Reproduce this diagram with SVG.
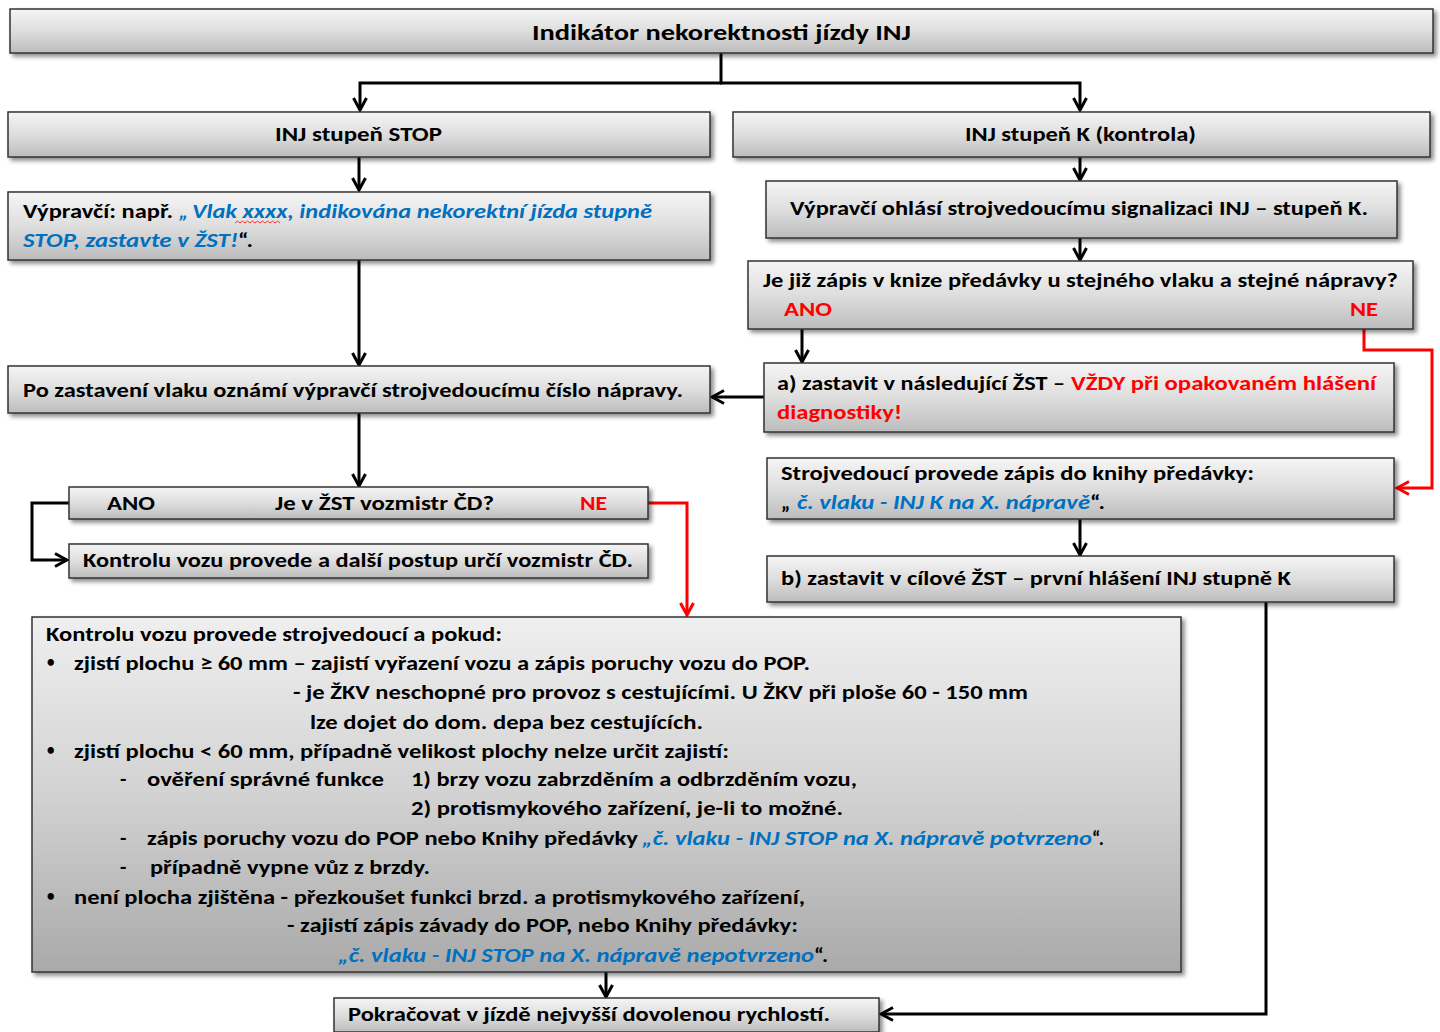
<svg xmlns="http://www.w3.org/2000/svg" width="1440" height="1032" viewBox="0 0 1440 1032">
  <defs>
    <linearGradient id="boxFill" x1="0" y1="0" x2="0" y2="1">
      <stop offset="0" stop-color="#f5f5f5"/>
      <stop offset="0.5" stop-color="#dedede"/>
      <stop offset="1" stop-color="#bcbcbc"/>
    </linearGradient>
    <linearGradient id="bigFill" x1="0" y1="0" x2="0" y2="1">
      <stop offset="0" stop-color="#efefef"/>
      <stop offset="0.5" stop-color="#d2d2d2"/>
      <stop offset="1" stop-color="#a9a9a9"/>
    </linearGradient>
    <filter id="shadow" x="-5%" y="-20%" width="112%" height="150%">
      <feDropShadow dx="3" dy="3" stdDeviation="2" flood-color="#000" flood-opacity="0.45"/>
    </filter>
    <marker id="arrK" viewBox="0 0 16 16" refX="14" refY="8" markerWidth="16" markerHeight="16" markerUnits="userSpaceOnUse" orient="auto">
      <path d="M2,1.5 L14,8 L2,14.5" fill="none" stroke="#000" stroke-width="3"/>
    </marker>
    <marker id="arrR" viewBox="0 0 16 16" refX="14" refY="8" markerWidth="16" markerHeight="16" markerUnits="userSpaceOnUse" orient="auto">
      <path d="M2,1.5 L14,8 L2,14.5" fill="none" stroke="#ff0000" stroke-width="3"/>
    </marker>
  </defs>
  <style>
    .box { fill: url(#boxFill); stroke: #333; stroke-width: 1.5; filter: url(#shadow); }
    .big { fill: url(#bigFill); stroke: #333; stroke-width: 1.5; filter: url(#shadow); }
    text { font-family: Carlito, Lato, "Liberation Sans", sans-serif; font-weight: bold; font-size: 21px; fill: #000; }
    .title { font-size: 23px; }
    .blue { fill: #0070c0; font-style: italic; }
    .red { fill: #ff0000; }
    .bul { font-size: 15px; }
    .ln { fill: none; stroke: #000; stroke-width: 3; stroke-linejoin: miter; }
    .lr { fill: none; stroke: #ff0000; stroke-width: 3; stroke-linejoin: miter; }
  </style>

  <rect width="1440" height="1032" fill="#fff"/>

  <!-- connectors -->
  <g id="connectors">
    <path class="ln" d="M721,53 V83"/>
    <path class="ln" d="M722,83 H360 V110" marker-end="url(#arrK)"/>
    <path class="ln" d="M720,83 H1080 V110" marker-end="url(#arrK)"/>
    <path class="ln" d="M359,157 V190" marker-end="url(#arrK)"/>
    <path class="ln" d="M1080,157 V180" marker-end="url(#arrK)"/>
    <path class="ln" d="M1080,238 V260" marker-end="url(#arrK)"/>
    <path class="ln" d="M802,329 V362" marker-end="url(#arrK)"/>
    <path class="ln" d="M764,397 H712" marker-end="url(#arrK)"/>
    <path class="ln" d="M359,260 V365" marker-end="url(#arrK)"/>
    <path class="ln" d="M359,413 V486" marker-end="url(#arrK)"/>
    <path class="ln" d="M69,503 H32 V560 H67" marker-end="url(#arrK)"/>
    <path class="ln" d="M1080,519 V555" marker-end="url(#arrK)"/>
    <path class="ln" d="M1266,602 V1014 H881" marker-end="url(#arrK)"/>
    <path class="ln" d="M606,972 V997" marker-end="url(#arrK)"/>
    <path class="lr" d="M1364,329 V350 H1432 V488 H1397" marker-end="url(#arrR)"/>
    <path class="lr" d="M648,503 H687 V615" marker-end="url(#arrR)"/>
  </g>

  <g id="n-title">
    <rect class="box" x="10" y="9" width="1423" height="44"/>
    <text class="title" x="532" y="40" textLength="379" lengthAdjust="spacingAndGlyphs">Indikátor nekorektnosti jízdy INJ</text>
  </g>

  <g id="n-stop">
    <rect class="box" x="8" y="112" width="702" height="45"/>
    <text x="275" y="141" textLength="167" lengthAdjust="spacingAndGlyphs">INJ stupeň STOP</text>
  </g>

  <g id="n-k">
    <rect class="box" x="733" y="112" width="697" height="45"/>
    <text x="965" y="141" textLength="231" lengthAdjust="spacingAndGlyphs">INJ stupeň K (kontrola)</text>
  </g>

  <g id="n-vypravci-stop">
    <rect class="box" x="8" y="192" width="702" height="68"/>
    <text x="23" y="218" textLength="150" lengthAdjust="spacingAndGlyphs">Výpravčí: např.</text>
    <text class="blue" x="179" y="218">„</text>
    <text class="blue" x="192" y="218" textLength="460" lengthAdjust="spacingAndGlyphs">Vlak xxxx, indikována nekorektní jízda stupně</text>
    <!-- spell-check squiggle under the placeholder train number -->
    <path d="M235,223 l2.5,-2 l2.5,2 l2.5,-2 l2.5,2 l2.5,-2 l2.5,2 l2.5,-2 l2.5,2 l2.5,-2 l2.5,2 l2.5,-2 l2.5,2 l2.5,-2 l2.5,2 l2.5,-2 l2.5,2 l2.5,-2 l2.5,2" fill="none" stroke="#ff3030" stroke-width="1"/>
    <text class="blue" x="23" y="247" textLength="215" lengthAdjust="spacingAndGlyphs">STOP, zastavte v ŽST!</text>
    <text x="238" y="247" textLength="15" lengthAdjust="spacingAndGlyphs">“.</text>
  </g>

  <g id="n-vypravci-k">
    <rect class="box" x="766" y="181" width="631" height="57"/>
    <text x="790" y="215" textLength="578" lengthAdjust="spacingAndGlyphs">Výpravčí ohlásí strojvedoucímu signalizaci INJ – stupeň K.</text>
  </g>

  <g id="n-zapis-dotaz">
    <rect class="box" x="748" y="261" width="665" height="68"/>
    <text x="763" y="287" textLength="635" lengthAdjust="spacingAndGlyphs">Je již zápis v knize předávky u stejného vlaku a stejné nápravy?</text>
    <text class="red" x="784" y="316" textLength="48" lengthAdjust="spacingAndGlyphs">ANO</text>
    <text class="red" x="1350" y="316" textLength="28" lengthAdjust="spacingAndGlyphs">NE</text>
  </g>

  <g id="n-zastavit-a">
    <rect class="box" x="764" y="363" width="630" height="69"/>
    <text x="777" y="390" textLength="288" lengthAdjust="spacingAndGlyphs">a) zastavit v následující ŽST –</text>
    <text class="red" x="1071" y="390" textLength="305" lengthAdjust="spacingAndGlyphs">VŽDY při opakovaném hlášení</text>
    <text class="red" x="777" y="419" textLength="125" lengthAdjust="spacingAndGlyphs">diagnostiky!</text>
  </g>

  <g id="n-po-zastaveni">
    <rect class="box" x="8" y="366" width="702" height="47"/>
    <text x="23" y="397" textLength="660" lengthAdjust="spacingAndGlyphs">Po zastavení vlaku oznámí výpravčí strojvedoucímu číslo nápravy.</text>
  </g>

  <g id="n-zapis-k">
    <rect class="box" x="767" y="458" width="627" height="61"/>
    <text x="781" y="480" textLength="473" lengthAdjust="spacingAndGlyphs">Strojvedoucí provede zápis do knihy předávky:</text>
    <text x="781" y="509">„</text>
    <text class="blue" x="797" y="509" textLength="293" lengthAdjust="spacingAndGlyphs">č. vlaku - INJ K na X. nápravě</text>
    <text x="1090" y="509" textLength="15" lengthAdjust="spacingAndGlyphs">“.</text>
  </g>

  <g id="n-zastavit-b">
    <rect class="box" x="767" y="556" width="627" height="46"/>
    <text x="781" y="585" textLength="510" lengthAdjust="spacingAndGlyphs">b) zastavit v cílové ŽST – první hlášení INJ stupně K</text>
  </g>

  <g id="n-vozmistr-dotaz">
    <rect class="box" x="69" y="487" width="579" height="32"/>
    <text x="107" y="510" textLength="48" lengthAdjust="spacingAndGlyphs">ANO</text>
    <text x="275" y="510" textLength="219" lengthAdjust="spacingAndGlyphs">Je v ŽST vozmistr ČD?</text>
    <text class="red" x="580" y="510" textLength="27" lengthAdjust="spacingAndGlyphs">NE</text>
  </g>

  <g id="n-vozmistr-kontrola">
    <rect class="box" x="69" y="544" width="579" height="34"/>
    <text x="83" y="567" textLength="550" lengthAdjust="spacingAndGlyphs">Kontrolu vozu provede a další postup určí vozmistr ČD.</text>
  </g>

  <g id="n-strojvedouci-kontrola">
    <rect class="big" x="32" y="617" width="1149" height="355"/>
    <text x="46" y="641" textLength="456" lengthAdjust="spacingAndGlyphs">Kontrolu vozu provede strojvedoucí a pokud:</text>
    <text class="bul" x="47" y="667">•</text>
    <text x="74" y="670" textLength="736" lengthAdjust="spacingAndGlyphs">zjistí plochu ≥ 60 mm – zajistí vyřazení vozu a zápis poruchy vozu do POP.</text>
    <text x="293" y="699" textLength="735" lengthAdjust="spacingAndGlyphs">- je ŽKV neschopné pro provoz s cestujícími. U ŽKV při ploše 60 - 150 mm</text>
    <text x="310" y="729" textLength="393" lengthAdjust="spacingAndGlyphs">lze dojet do dom. depa bez cestujících.</text>
    <text class="bul" x="47" y="755">•</text>
    <text x="74" y="758" textLength="655" lengthAdjust="spacingAndGlyphs">zjistí plochu &lt; 60 mm, případně velikost plochy nelze určit zajistí:</text>
    <text x="120" y="786">-</text>
    <text x="147" y="786" textLength="237" lengthAdjust="spacingAndGlyphs">ověření správné funkce</text>
    <text x="411" y="786" textLength="446" lengthAdjust="spacingAndGlyphs">1) brzy vozu zabrzděním a odbrzděním vozu,</text>
    <text x="411" y="815" textLength="432" lengthAdjust="spacingAndGlyphs">2) protismykového zařízení, je-li to možné.</text>
    <text x="120" y="845">-</text>
    <text x="147" y="845" textLength="491" lengthAdjust="spacingAndGlyphs">zápis poruchy vozu do POP nebo Knihy předávky</text>
    <text class="blue" x="642" y="845" textLength="450" lengthAdjust="spacingAndGlyphs">„č. vlaku - INJ STOP na X. nápravě potvrzeno</text>
    <text x="1092" y="845" textLength="12" lengthAdjust="spacingAndGlyphs">“.</text>
    <text x="120" y="874">-</text>
    <text x="150" y="874" textLength="280" lengthAdjust="spacingAndGlyphs">případně vypne vůz z brzdy.</text>
    <text class="bul" x="47" y="901">•</text>
    <text x="74" y="904" textLength="731" lengthAdjust="spacingAndGlyphs">není plocha zjištěna - přezkoušet funkci brzd. a protismykového zařízení,</text>
    <text x="287" y="932" textLength="511" lengthAdjust="spacingAndGlyphs">- zajistí zápis závady do POP, nebo Knihy předávky:</text>
    <text class="blue" x="338" y="962" textLength="476" lengthAdjust="spacingAndGlyphs">„č. vlaku - INJ STOP na X. nápravě nepotvrzeno</text>
    <text x="814" y="962" textLength="14" lengthAdjust="spacingAndGlyphs">“.</text>
  </g>

  <g id="n-pokracovat">
    <rect class="box" x="334" y="998" width="545" height="34"/>
    <text x="348" y="1021" textLength="482" lengthAdjust="spacingAndGlyphs">Pokračovat v jízdě nejvyšší dovolenou rychlostí.</text>
  </g>
</svg>
